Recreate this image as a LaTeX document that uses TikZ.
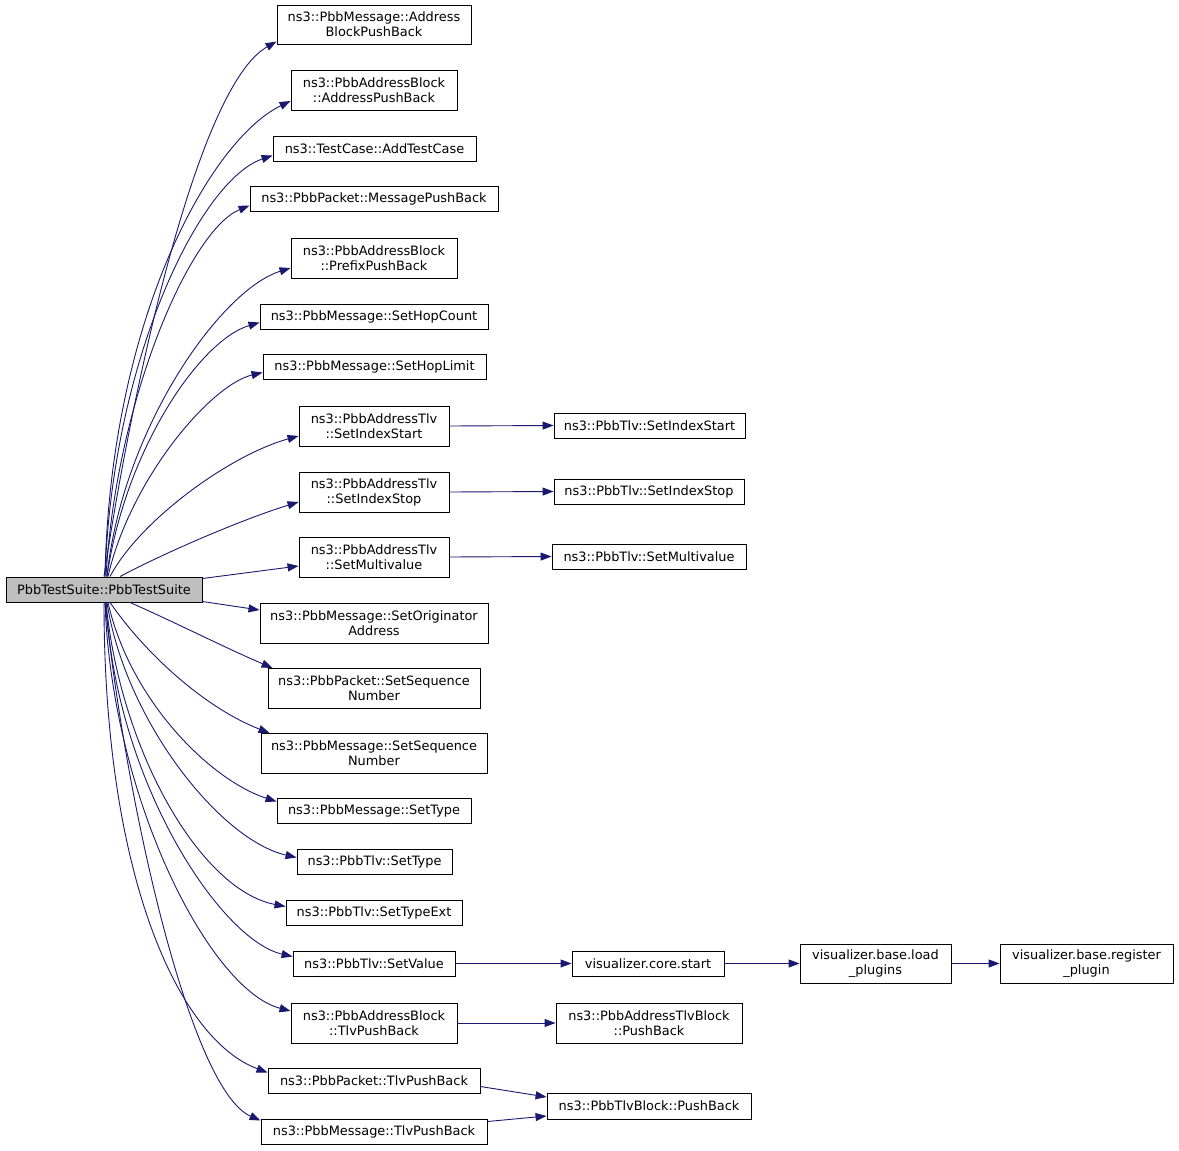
\documentclass[tikz,border=0pt]{standalone}
\usepackage{fontspec}
\setmainfont{DejaVu Sans}
\usetikzlibrary{arrows.meta,calc}
\definecolor{edgeblue}{RGB}{25,25,112}
\definecolor{maingray}{RGB}{191,191,191}
\tikzset{
  box/.style={draw=black,line width=0.9pt,fill=white,inner sep=0pt,align=center,
    font=\fontsize{12.9}{15}\selectfont,anchor=center},
  mainbox/.style={box,fill=maingray},
  edge/.style={draw=edgeblue,line width=0.9pt,-{Triangle[length=11pt,width=8pt]}}
}
\newcommand{\bx}[6]{\node[#1,minimum width=#4pt,minimum height=#5pt] (#2) at (#3) {#6};}
\begin{document}
\begin{tikzpicture}[x=1pt,y=-1pt]
\useasboundingbox (0,0) rectangle (1179,1151);
\bx{mainbox}{main}{104,589.5}{196}{25}{PbbTestSuite::PbbTestSuite}
\bx{box}{n1}{374,24.5}{194}{39}{ns3::PbbMessage::Address\\BlockPushBack}
\bx{box}{n2}{374,90}{166}{40}{ns3::PbbAddressBlock\\::AddressPushBack}
\bx{box}{n3}{374.5,148.5}{203}{25}{ns3::TestCase::AddTestCase}
\bx{box}{n4}{374,198.5}{248}{25}{ns3::PbbPacket::MessagePushBack}
\bx{box}{n5}{374,258}{166}{40}{ns3::PbbAddressBlock\\::PrefixPushBack}
\bx{box}{n6}{374,316.5}{228}{25}{ns3::PbbMessage::SetHopCount}
\bx{box}{n7}{374.5,366.5}{223}{25}{ns3::PbbMessage::SetHopLimit}
\bx{box}{n8}{374,426}{150}{40}{ns3::PbbAddressTlv\\::SetIndexStart}
\bx{box}{n9}{374,492}{150}{40}{ns3::PbbAddressTlv\\::SetIndexStop}
\bx{box}{n10}{374,557}{150}{40}{ns3::PbbAddressTlv\\::SetMultivalue}
\bx{box}{n11}{374,623}{228}{40}{ns3::PbbMessage::SetOriginator\\Address}
\bx{box}{n12}{374,688}{212}{40}{ns3::PbbPacket::SetSequence\\Number}
\bx{box}{n13}{374,753}{226}{40}{ns3::PbbMessage::SetSequence\\Number}
\bx{box}{n14}{374,810.5}{194}{25}{ns3::PbbMessage::SetType}
\bx{box}{n15}{374.5,861.5}{155}{25}{ns3::PbbTlv::SetType}
\bx{box}{n16}{374,912.5}{176}{25}{ns3::PbbTlv::SetTypeExt}
\bx{box}{n17}{374,963.5}{162}{25}{ns3::PbbTlv::SetValue}
\bx{box}{n18}{374,1023}{166}{40}{ns3::PbbAddressBlock\\::TlvPushBack}
\bx{box}{n19}{374,1080.5}{212}{25}{ns3::PbbPacket::TlvPushBack}
\bx{box}{n20}{374,1131.5}{226}{25}{ns3::PbbMessage::TlvPushBack}
\bx{box}{r1}{649.5,425.5}{191}{25}{ns3::PbbTlv::SetIndexStart}
\bx{box}{r2}{649,491.5}{190}{25}{ns3::PbbTlv::SetIndexStop}
\bx{box}{r3}{649,556.5}{194}{25}{ns3::PbbTlv::SetMultivalue}
\bx{box}{r4}{648,963.5}{152}{25}{visualizer.core.start}
\bx{box}{r5}{875.5,963.5}{151}{39}{visualizer.base.load\\\_plugins}
\bx{box}{r6}{1086.5,963.5}{173}{39}{visualizer.base.register\\\_plugin}
\bx{box}{r7}{649,1023}{186}{40}{ns3::PbbAddressTlvBlock\\::PushBack}
\bx{box}{r8}{649,1106}{204}{26}{ns3::PbbTlvBlock::PushBack}
% edges from main, upper group
\draw[edge] ($(main.north)+(0,0)$) .. controls (130,400) and (196,87) .. ($(n1.west)+(0,17)$);
\draw[edge] ($(main.north)+(1,0)$) .. controls (110,320) and (210,140) .. ($(n2.west)+(0,11)$);
\draw[edge] ($(main.north)+(1,0)$) .. controls (112,360) and (200,180) .. ($(n3.west)+(0,7)$);
\draw[edge] ($(main.north)+(2,0)$) .. controls (116,400) and (190,230) .. ($(n4.west)+(0,7)$);
\draw[edge] ($(main.north)+(3,0)$) .. controls (122,430) and (220,290) .. ($(n5.west)+(0,10)$);
\draw[edge] ($(main.north)+(3,0)$) .. controls (125,450) and (200,340) .. ($(n6.west)+(0,6)$);
\draw[edge] ($(main.north)+(4,0)$) .. controls (130,480) and (210,385) .. ($(n7.west)+(0,6)$);
\draw[edge] ($(main.north)+(6,0)$) .. controls (140,520) and (230,455) .. ($(n8.west)+(0,10)$);
\draw[edge] ($(main.north)+(16,0)$) .. controls (160,555) and (240,520) .. ($(n9.west)+(0,10)$);
\draw[edge] ($(main.east)+(0,-11)$) -- ($(n10.west)+(0,9)$);
% lower group
\draw[edge] ($(main.east)+(0,12)$) -- ($(n11.west)+(0,-13)$);
\draw[edge] ($(main.south)+(26,0)$) .. controls (170,620) and (230,650) .. ($(n12.west)+(5,-20)$);
\draw[edge] ($(main.south)+(6,0)$) .. controls (150,660) and (210,710) .. ($(n13.west)+(9,-20)$);
\draw[edge] ($(main.south)+(4,0)$) .. controls (130,700) and (210,780) .. ($(n14.west)+(0,-9)$);
\draw[edge] ($(main.south)+(3,0)$) .. controls (125,720) and (220,840) .. ($(n15.west)+(0,-4)$);
\draw[edge] ($(main.south)+(2,0)$) .. controls (120,750) and (200,890) .. ($(n16.west)+(0,-6)$);
\draw[edge] ($(main.south)+(2,0)$) .. controls (115,780) and (220,940) .. ($(n17.west)+(0,-7)$);
\draw[edge] ($(main.south)+(1,0)$) .. controls (112,800) and (210,990) .. ($(n18.west)+(0,-12)$);
\draw[edge] ($(main.south)+(0,0)$) .. controls (104,880) and (180,1040) .. ($(n19.west)+(0,-8)$);
\draw[edge] ($(main.south)+(1,0)$) .. controls (125,800) and (190,1090) .. ($(n20.west)+(0,-11)$);
% right side
\draw[edge] (n8.east) -- (r1.west);
\draw[edge] (n9.east) -- (r2.west);
\draw[edge] (n10.east) -- (r3.west);
\draw[edge] (n17.east) -- (r4.west);
\draw[edge] (r4.east) -- (r5.west);
\draw[edge] (r5.east) -- (r6.west);
\draw[edge] (n18.east) -- (r7.west);
\draw[edge] ($(n19.east)+(0,6)$) -- ($(r8.west)+(0,-9)$);
\draw[edge] ($(n20.east)+(0,-10)$) -- ($(r8.west)+(0,10)$);
\end{tikzpicture}
\end{document}
